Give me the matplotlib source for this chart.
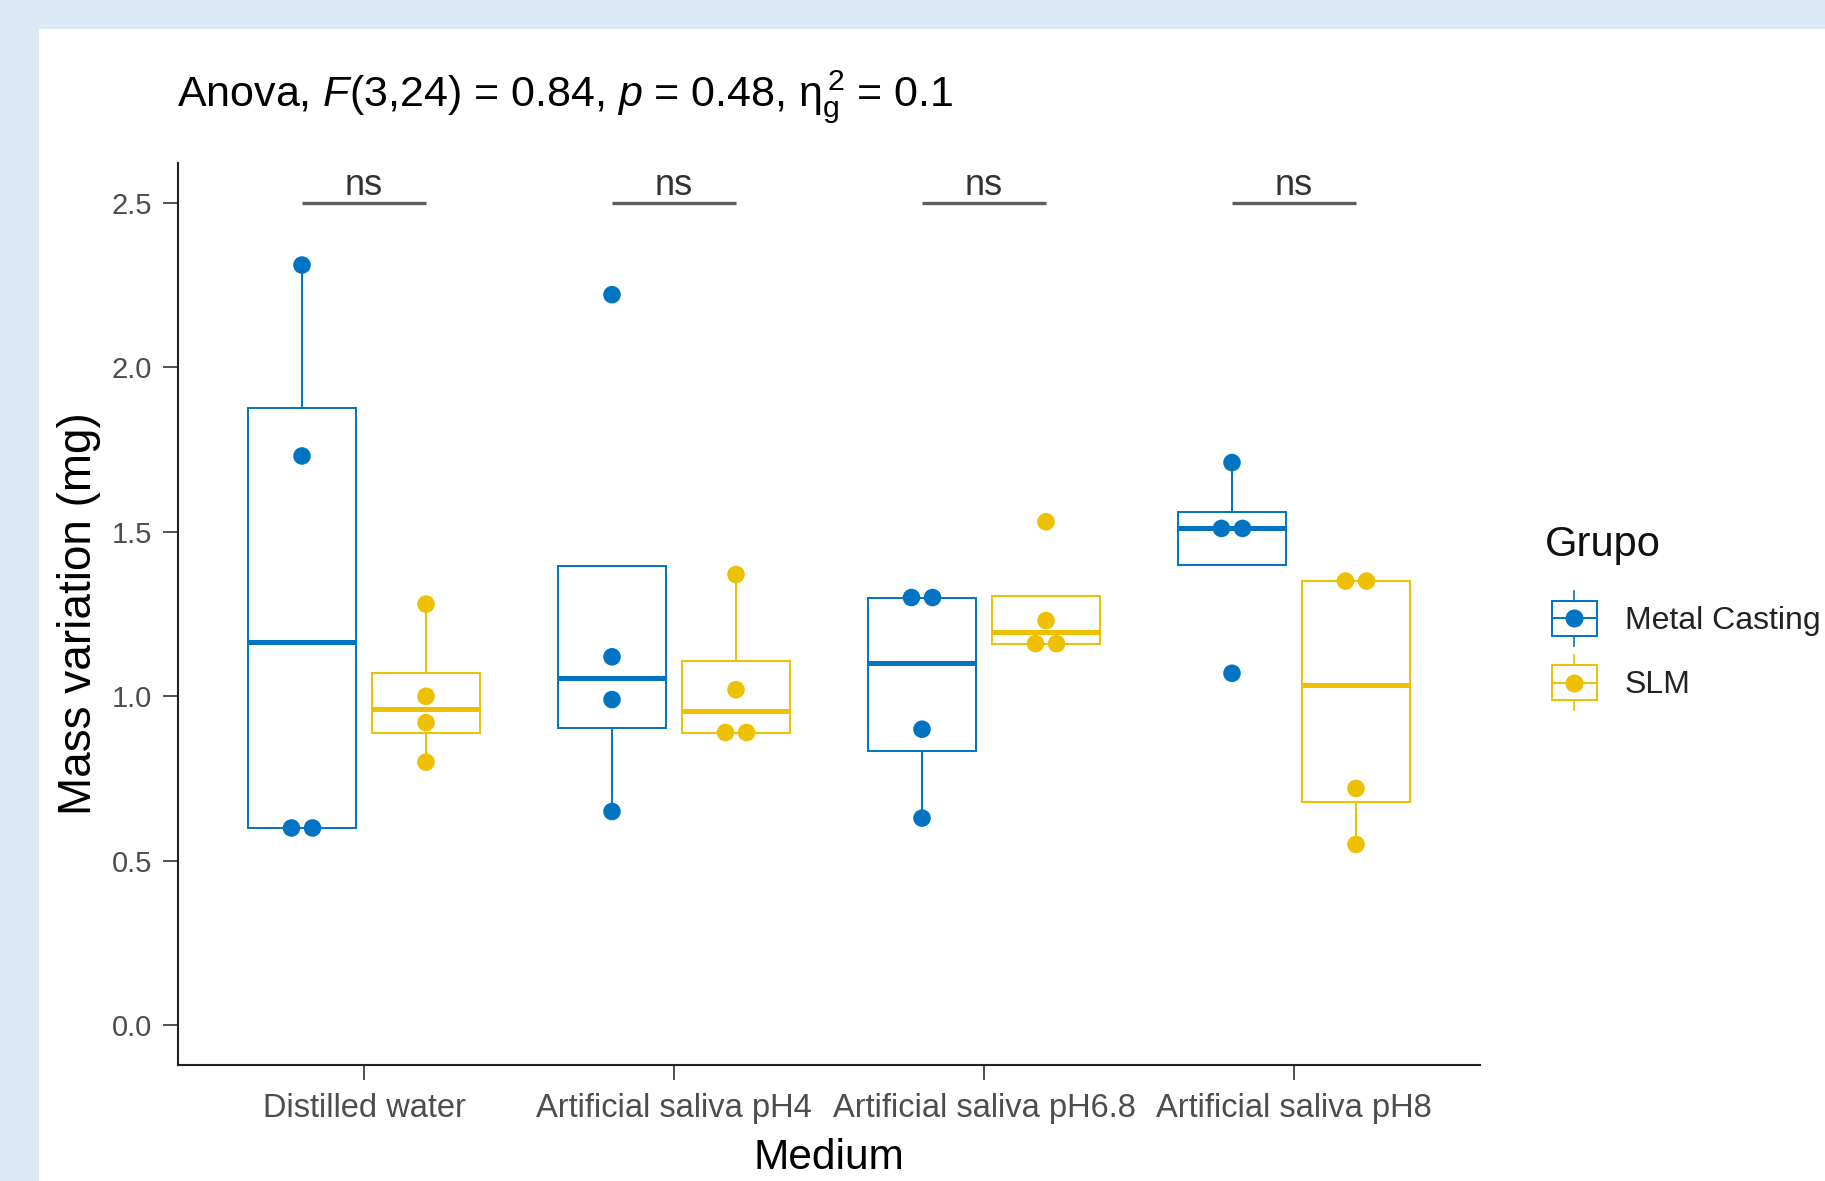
import matplotlib
matplotlib.use("Agg")
import matplotlib.pyplot as plt
from matplotlib import font_manager
from matplotlib.patches import Rectangle
from matplotlib.lines import Line2D
from matplotlib.legend_handler import HandlerBase
import numpy as np

# ---- data -------------------------------------------------------------
media = ["Distilled water", "Artificial saliva pH4",
         "Artificial saliva pH6.8", "Artificial saliva pH8"]
groups = ["Metal Casting", "SLM"]

metal_casting = [
    [2.31, 1.73, 0.60, 0.60],
    [2.22, 1.12, 0.99, 0.65],
    [1.30, 1.30, 0.90, 0.63],
    [1.71, 1.51, 1.51, 1.07],
]
slm = [
    [1.28, 1.00, 0.92, 0.80],
    [1.37, 1.02, 0.89, 0.89],
    [1.53, 1.23, 1.16, 1.16],
    [1.35, 1.35, 0.72, 0.55],
]
signif_labels = ["ns", "ns", "ns", "ns"]
signif_y = 2.5
y_ticks = [0.0, 0.5, 1.0, 1.5, 2.0, 2.5]

colors = ["#0073C2", "#EFC000"]

# ---- fonts ------------------------------------------------------------
available = {f.name for f in font_manager.fontManager.ttflist}
base = "Liberation Sans Narrow" if "Liberation Sans Narrow" in available else "Liberation Sans"
plt.rcParams["font.family"] = [base, "Liberation Sans", "DejaVu Sans"]
plt.rcParams["mathtext.fontset"] = "custom"
plt.rcParams["mathtext.rm"] = base
plt.rcParams["mathtext.it"] = base + ":italic"
plt.rcParams["mathtext.bf"] = base + ":bold"

fig = plt.figure(figsize=(18.25, 11.81), dpi=100)
fig.patch.set_facecolor("#DCE8F4")
W, H = 1825, 1181
fig.patches.append(Rectangle((39 / W, 0), 1, 1 - 29 / H, transform=fig.transFigure,
                             facecolor="white", edgecolor="none", zorder=-5))

ax = fig.add_axes([178 / W, 1 - 1065 / H, (1480 - 178) / W, (1065 - 163) / H])
ax.set_facecolor("white")
ax.set_zorder(1)

dodge = 0.2
box_w = 0.35
x_base = np.arange(len(media))

for gi, (data, col) in enumerate(zip([metal_casting, slm], colors)):
    pos = x_base + (gi * 2 - 1) * dodge
    ax.boxplot(data, positions=pos, widths=box_w, whis=1.5, showfliers=False,
               patch_artist=True, manage_ticks=False,
               boxprops=dict(facecolor="white", edgecolor=col, linewidth=1.4),
               whiskerprops=dict(color=col, linewidth=1.4),
               capprops=dict(linewidth=0),
               medianprops=dict(color=col, linewidth=3.6),
               zorder=2)
    # points, with tied values set side by side
    for p, vals in zip(pos, data):
        vals = np.asarray(vals)
        xs = np.full(len(vals), p, dtype=float)
        for v in np.unique(vals):
            idx = np.where(vals == v)[0]
            n = len(idx)
            xs[idx] = p + (np.arange(n) - (n - 1) / 2) * 0.068
        ax.scatter(xs, vals, s=160, color=col, edgecolors="none", zorder=3)

# significance brackets
for i, lab in enumerate(signif_labels):
    ax.plot([x_base[i] - dodge, x_base[i] + dodge], [signif_y, signif_y],
            color="#5E5E5E", lw=2.4, solid_capstyle="butt", zorder=2)
    ax.text(x_base[i], signif_y - 0.002, lab, ha="center", va="bottom",
            fontsize=26, color="#333333")

ax.set_xlim(-0.6, 3.6)
ax.set_ylim(-0.12, 2.62)
ax.set_xticks(x_base)
ax.set_xticklabels(media, fontsize=23.5, color="#4D4D4D")
ax.set_yticks(y_ticks)
ax.set_yticklabels([f"{t:.1f}" for t in y_ticks], fontsize=21, color="#4D4D4D")
ax.tick_params(axis="both", length=10.5, width=1.2, color="#333333")
ax.tick_params(axis="x", pad=10)
ax.tick_params(axis="y", pad=8)
for s in ["top", "right"]:
    ax.spines[s].set_visible(False)
for s in ["left", "bottom"]:
    ax.spines[s].set_linewidth(1.5)
    ax.spines[s].set_color("#222222")

ax.set_xlabel("Medium", fontsize=30.5, color="black", labelpad=10)
ax.set_ylabel("Mass variation (mg)", fontsize=33, color="black", labelpad=8)

fig.text(177 / W, 1 - 97 / H,
         r"Anova, $\mathit{F}$(3,24) = 0.84, $\mathit{p}$ = 0.48, $\mathrm{η}^{\,2}_{\mathrm{g}}$ = 0.1",
         fontsize=31, ha="left", va="center")


# legend keys drawn as little boxplots with a dot
class BoxKey(HandlerBase):
    def __init__(self, color):
        super().__init__()
        self.color = color

    def create_artists(self, legend, orig_handle, xdescent, ydescent,
                       width, height, fontsize, trans):
        c = self.color
        x0, y0 = -xdescent, -ydescent
        arts = [
            Line2D([x0 + width / 2] * 2, [y0 - height * 0.2, y0 + height * 1.2],
                   color=c, lw=1.2, transform=trans),
            Rectangle((x0, y0 + height * 0.05), width, height * 0.9,
                      facecolor="white", edgecolor=c, lw=1.4, transform=trans),
            Line2D([x0, x0 + width], [y0 + height / 2] * 2, color=c, lw=1.4,
                   transform=trans),
            Line2D([x0 + width / 2], [y0 + height / 2], marker="o", markersize=12,
                   color=c, transform=trans),
        ]
        return arts


fig.text(1545 / W, 1 - 545 / H, "Grupo", fontsize=30, ha="left", va="center",
         color="#111111")
handles = [Rectangle((0, 0), 1, 1), Rectangle((0, 0), 1, 1)]
leg = fig.legend(handles, groups, loc="upper left",
                 bbox_to_anchor=(1523 / W, 1 - 570 / H), frameon=False,
                 fontsize=23, handlelength=1.42, handleheight=1.5,
                 handletextpad=0.87, labelspacing=0.8,
                 handler_map={handles[0]: BoxKey(colors[0]), handles[1]: BoxKey(colors[1])})
for t in leg.get_texts():
    t.set_color("#222222")

fig.savefig("out.png", dpi=100, facecolor=fig.get_facecolor())
